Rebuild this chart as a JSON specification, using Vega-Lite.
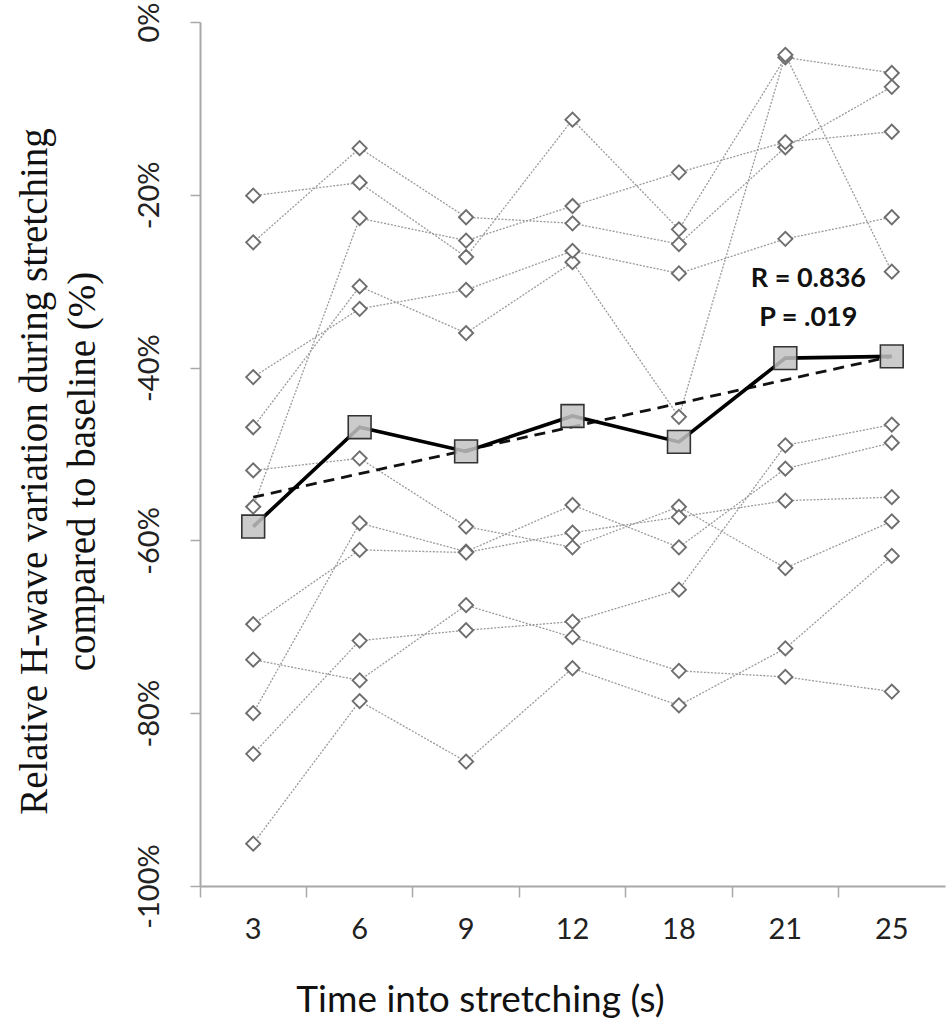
{
  "$schema": "https://vega.github.io/schema/vega-lite/v6.json",
  "width": 745,
  "height": 864,
  "autosize": "none",
  "padding": {"left": 200, "top": 22, "right": 5, "bottom": 144},
  "background": "white",
  "config": {"view": {"stroke": null}},
  "datasets": {
    "subjects": [
      {"s": "S1", "t": 3, "v": -20.1}, {"s": "S1", "t": 6, "v": -18.6}, {"s": "S1", "t": 9, "v": -27.2}, {"s": "S1", "t": 12, "v": -11.3}, {"s": "S1", "t": 18, "v": -24.0}, {"s": "S1", "t": 21, "v": -4.1}, {"s": "S1", "t": 25, "v": -5.9},
      {"s": "S2", "t": 3, "v": -25.5}, {"s": "S2", "t": 6, "v": -14.6}, {"s": "S2", "t": 9, "v": -22.6}, {"s": "S2", "t": 12, "v": -23.3}, {"s": "S2", "t": 18, "v": -25.7}, {"s": "S2", "t": 21, "v": -14.5}, {"s": "S2", "t": 25, "v": -7.5},
      {"s": "S3", "t": 3, "v": -56.1}, {"s": "S3", "t": 6, "v": -22.7}, {"s": "S3", "t": 9, "v": -25.3}, {"s": "S3", "t": 12, "v": -21.3}, {"s": "S3", "t": 18, "v": -17.4}, {"s": "S3", "t": 21, "v": -13.9}, {"s": "S3", "t": 25, "v": -12.7},
      {"s": "S4", "t": 3, "v": -46.9}, {"s": "S4", "t": 6, "v": -30.6}, {"s": "S4", "t": 9, "v": -36.0}, {"s": "S4", "t": 12, "v": -27.8}, {"s": "S4", "t": 18, "v": -45.7}, {"s": "S4", "t": 21, "v": -3.8}, {"s": "S4", "t": 25, "v": -28.9},
      {"s": "S5", "t": 3, "v": -41.1}, {"s": "S5", "t": 6, "v": -33.2}, {"s": "S5", "t": 9, "v": -31.0}, {"s": "S5", "t": 12, "v": -26.5}, {"s": "S5", "t": 18, "v": -29.1}, {"s": "S5", "t": 21, "v": -25.1}, {"s": "S5", "t": 25, "v": -22.6},
      {"s": "S6", "t": 3, "v": -51.9}, {"s": "S6", "t": 6, "v": -50.5}, {"s": "S6", "t": 9, "v": -58.4}, {"s": "S6", "t": 12, "v": -60.8}, {"s": "S6", "t": 18, "v": -56.1}, {"s": "S6", "t": 21, "v": -63.2}, {"s": "S6", "t": 25, "v": -57.8},
      {"s": "S7", "t": 3, "v": -80.0}, {"s": "S7", "t": 6, "v": -58.0}, {"s": "S7", "t": 9, "v": -61.3}, {"s": "S7", "t": 12, "v": -55.9}, {"s": "S7", "t": 18, "v": -60.8}, {"s": "S7", "t": 21, "v": -51.7}, {"s": "S7", "t": 25, "v": -48.7},
      {"s": "S8", "t": 3, "v": -69.7}, {"s": "S8", "t": 6, "v": -61.1}, {"s": "S8", "t": 9, "v": -61.4}, {"s": "S8", "t": 12, "v": -59.1}, {"s": "S8", "t": 18, "v": -57.3}, {"s": "S8", "t": 21, "v": -55.4}, {"s": "S8", "t": 25, "v": -55.0},
      {"s": "S9", "t": 3, "v": -73.8}, {"s": "S9", "t": 6, "v": -76.2}, {"s": "S9", "t": 9, "v": -67.5}, {"s": "S9", "t": 12, "v": -71.2}, {"s": "S9", "t": 18, "v": -75.1}, {"s": "S9", "t": 21, "v": -75.8}, {"s": "S9", "t": 25, "v": -77.5},
      {"s": "S10", "t": 3, "v": -84.7}, {"s": "S10", "t": 6, "v": -71.6}, {"s": "S10", "t": 9, "v": -70.4}, {"s": "S10", "t": 12, "v": -69.4}, {"s": "S10", "t": 18, "v": -65.7}, {"s": "S10", "t": 21, "v": -49.0}, {"s": "S10", "t": 25, "v": -46.6},
      {"s": "S11", "t": 3, "v": -95.1}, {"s": "S11", "t": 6, "v": -78.6}, {"s": "S11", "t": 9, "v": -85.6}, {"s": "S11", "t": 12, "v": -74.8}, {"s": "S11", "t": 18, "v": -79.1}, {"s": "S11", "t": 21, "v": -72.5}, {"s": "S11", "t": 25, "v": -61.8}
    ],
    "mean": [
      {"t": 3, "v": -58.4}, {"t": 6, "v": -46.9}, {"t": 9, "v": -49.7}, {"t": 12, "v": -45.6}, {"t": 18, "v": -48.6}, {"t": 21, "v": -38.9}, {"t": 25, "v": -38.7}
    ],
    "trend": [
      {"t": 3, "v": -55.0}, {"t": 25, "v": -38.7}
    ],
    "notes": [
      {"t": 21, "v": -29.7, "label": "R = 0.836"},
      {"t": 21, "v": -34.3, "label": "P = .019"}
    ]
  },
  "encoding": {
    "x": {
      "field": "t", "type": "ordinal",
      "scale": {"type": "band", "domain": [3, 6, 9, 12, 18, 21, 25], "paddingInner": 0, "paddingOuter": 0},
      "axis": {
        "title": "Time into stretching (s)",
        "titleFont": "Lato", "titleFontSize": 37, "titleFontWeight": "normal", "titleColor": "#111111",
        "titleX": 280, "titleY": 114, "titleAlign": "center", "titleBaseline": "middle", "titleAnchor": null,
        "labelFont": "Lato", "labelFontSize": 29, "labelColor": "#222222", "labelAngle": 0, "labelPadding": 18,
        "domainColor": "#a8a8a8", "domainWidth": 2, "tickColor": "#a8a8a8", "tickWidth": 1.5, "tickSize": 11,
        "bandPosition": 0, "grid": false
      }
    },
    "y": {
      "field": "v", "type": "quantitative",
      "scale": {"domain": [-100, 0], "nice": false, "zero": false},
      "axis": {
        "title": ["Relative H-wave variation during stretching", "compared to baseline (%)"],
        "titleFont": "Liberation Serif", "titleFontSize": 39, "titleFontWeight": "normal", "titleColor": "#111111",
        "titleAngle": -90, "titleX": -166, "titleY": 449, "titleAlign": "center", "titleBaseline": "middle", "titleLineHeight": 48, "titleAnchor": null,
        "values": [-100, -80, -60, -40, -20, 0],
        "labelExpr": "datum.value + '%'",
        "labelFont": "Lato", "labelFontSize": 29, "labelColor": "#222222",
        "labelAngle": -90, "labelAlign": "center", "labelBaseline": "bottom", "labelPadding": 26,
        "domainColor": "#a8a8a8", "domainWidth": 2, "tickColor": "#a8a8a8", "tickWidth": 1.5, "tickSize": 10,
        "grid": false
      }
    }
  },
  "layer": [
    {
      "data": {"name": "subjects"},
      "mark": {"type": "line", "color": "#9a9a9a", "strokeWidth": 1.3, "strokeDash": [2, 1.5]},
      "encoding": {
        "detail": {"field": "s", "type": "nominal"},
        "order": {"field": "t", "type": "quantitative"}
      }
    },
    {
      "data": {"name": "subjects"},
      "mark": {"type": "point", "shape": "diamond", "size": 200, "filled": true, "fill": "white", "stroke": "#6e6e6e", "strokeWidth": 1.9, "opacity": 1}
    },
    {
      "data": {"name": "trend"},
      "mark": {"type": "line", "color": "#111111", "strokeWidth": 2.8, "strokeDash": [11, 7]},
      "encoding": {"order": {"field": "t", "type": "quantitative"}}
    },
    {
      "data": {"name": "mean"},
      "mark": {"type": "line", "color": "#000000", "strokeWidth": 3.6},
      "encoding": {"order": {"field": "t", "type": "quantitative"}}
    },
    {
      "data": {"name": "mean"},
      "mark": {"type": "point", "shape": "square", "size": 520, "filled": true, "fill": "#c2c2c2", "fillOpacity": 0.85, "stroke": "#333333", "strokeWidth": 1.6, "opacity": 1}
    },
    {
      "data": {"name": "notes"},
      "mark": {"type": "text", "font": "Lato", "fontSize": 27, "fontWeight": "bold", "color": "#111111", "align": "center", "baseline": "middle", "dx": 23},
      "encoding": {"text": {"field": "label", "type": "nominal"}}
    }
  ]
}
